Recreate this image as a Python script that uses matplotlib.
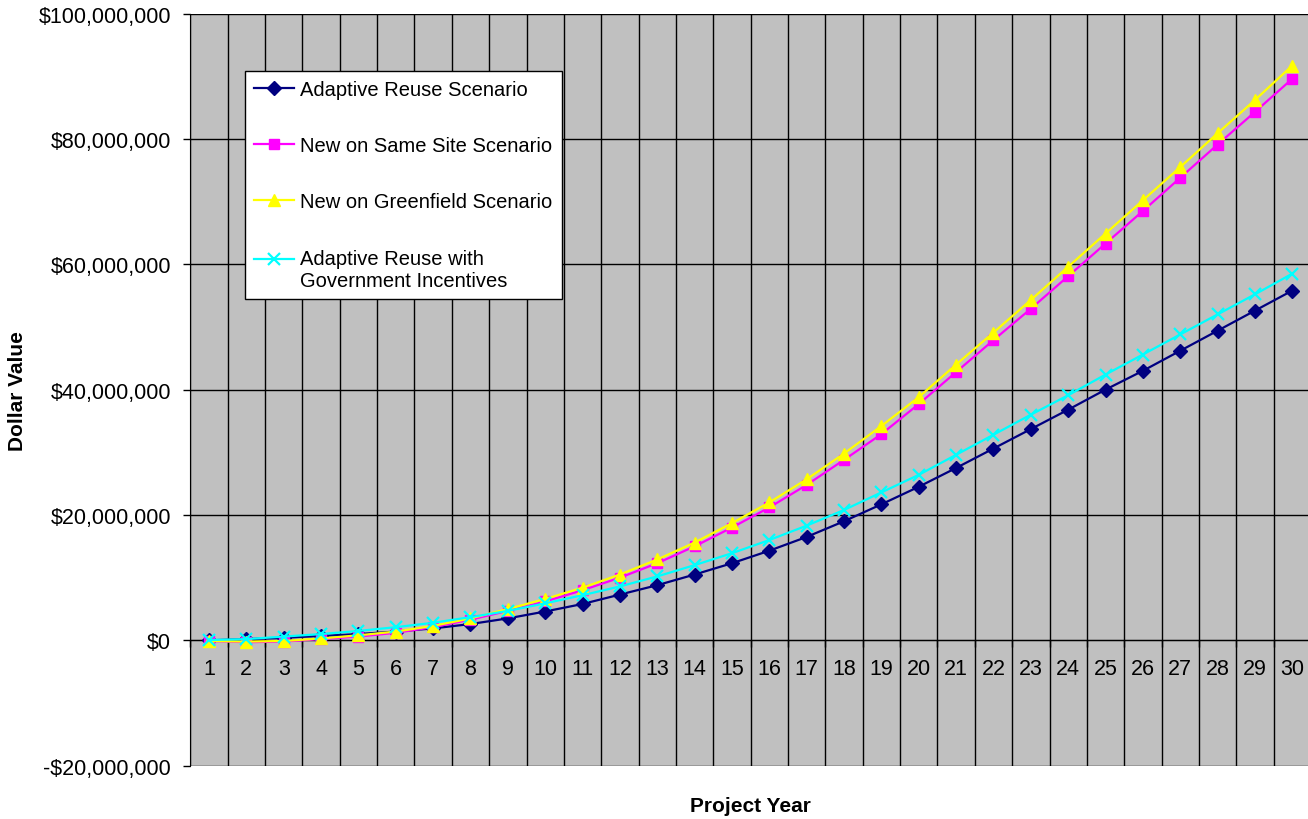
import matplotlib.pyplot as plt
import numpy as np
from matplotlib.ticker import FuncFormatter, MultipleLocator, FixedLocator

plt.rcParams['font.family'] = ['Liberation Sans', 'DejaVu Sans']

# Cumulative dollar value per project year for each scenario
years = list(range(1, 31))
adaptive_reuse = [0.0, 0.2, 0.4, 0.7, 1.0, 1.4, 1.9, 2.6, 3.5, 4.6,
                  5.8, 7.3, 8.8, 10.5, 12.3, 14.3, 16.5, 19.0, 21.7, 24.5,
                  27.5, 30.6, 33.7, 36.8, 40.0, 43.0, 46.2, 49.4, 52.6, 55.8]
same_site = [-0.1, -0.3, -0.2, 0.2, 0.6, 1.2, 2.1, 3.3, 4.7, 6.2,
             8.0, 10.0, 12.3, 15.0, 18.0, 21.2, 24.8, 28.8, 32.9, 37.7,
             42.8, 47.9, 52.9, 58.1, 63.3, 68.5, 73.8, 79.1, 84.3, 89.6]
greenfield = [-0.1, -0.2, -0.1, 0.3, 0.8, 1.4, 2.3, 3.5, 5.0, 6.6,
              8.4, 10.5, 12.9, 15.6, 18.7, 22.0, 25.7, 29.8, 34.2, 38.8,
              44.0, 49.1, 54.3, 59.6, 64.9, 70.2, 75.5, 80.9, 86.2, 91.7]
with_incentives = [0.05, 0.2, 0.6, 1.0, 1.5, 2.1, 2.8, 3.7, 4.7, 5.9,
                   7.2, 8.6, 10.2, 12.0, 13.9, 16.0, 18.3, 20.8, 23.6, 26.4,
                   29.6, 32.8, 36.0, 39.1, 42.4, 45.6, 48.8, 52.0, 55.2, 58.5]

series = [
    ("Adaptive Reuse Scenario", adaptive_reuse, "#000080", "D", 7.5),
    ("New on Same Site Scenario", same_site, "#FF00FF", "s", 7.5),
    ("New on Greenfield Scenario", greenfield, "#FFFF00", "^", 9),
    ("Adaptive Reuse with\nGovernment Incentives", with_incentives, "#00FFFF", "x", 9),
]

fig = plt.figure(figsize=(13.08, 8.2), dpi=100)
ax = fig.add_axes([0.1455, 0.065, 0.8568, 0.9173])
ax.set_facecolor("#C0C0C0")

for label, vals, color, marker, ms in series:
    ax.plot(years, np.array(vals) * 1e6, color=color, lw=1.6, marker=marker,
            markersize=ms, markeredgewidth=1.6 if marker == "x" else 1.0,
            label=label, clip_on=False, zorder=3)

ax.set_xlim(0.5, 30.5)
ax.set_ylim(-20e6, 100e6)

# y axis: $ labels every 20M, with horizontal grid
ax.yaxis.set_major_locator(MultipleLocator(20e6))
ax.yaxis.set_major_formatter(FuncFormatter(
    lambda v, p: f"-${abs(v):,.0f}" if v < 0 else f"${v:,.0f}"))
ax.tick_params(axis="y", direction="out", length=5, width=1, pad=9, labelsize=15.5)

# x axis sits on the $0 line: gridlines/ticks on category boundaries,
# year labels centred in each category
ax.spines["bottom"].set_position(("data", 0))
ax.xaxis.set_major_locator(FixedLocator(np.arange(0.5, 31, 1)))
ax.xaxis.set_minor_locator(FixedLocator(years))
ax.xaxis.set_major_formatter(FuncFormatter(lambda v, p: ""))
ax.xaxis.set_minor_formatter(FuncFormatter(lambda v, p: f"{int(round(v))}"))
ax.tick_params(axis="x", which="major", direction="out", length=5, width=1)
ax.tick_params(axis="x", which="minor", length=0, pad=13, labelsize=15.5)

ax.grid(True, which="major", color="black", lw=1)
ax.set_axisbelow(True)

for side in ["top", "right"]:
    ax.spines[side].set_visible(False)
ax.spines["left"].set_color("black")
ax.spines["bottom"].set_color("black")

ax.set_ylabel("Dollar Value", fontsize=15, fontweight="bold")
ax.set_xlabel("Project Year", fontsize=15, fontweight="bold")
ax.xaxis.set_label_coords(0.5, -0.04)
ax.yaxis.set_label_coords(-0.146, 0.5)

leg = ax.legend(loc="upper left", bbox_to_anchor=(0.0488, 0.924), fontsize=14.5,
                frameon=True, fancybox=False, edgecolor="black", framealpha=1,
                labelspacing=1.85, handlelength=2.0, handletextpad=0.3,
                borderpad=0.45, borderaxespad=0)
leg.get_frame().set_linewidth(1.0)

# keep the two-line entry's key level with its first line
last = leg.get_lines()[-1]
last.set_ydata(np.asarray(last.get_ydata()) + 7.5)

fig.savefig("out.png", dpi=100)
